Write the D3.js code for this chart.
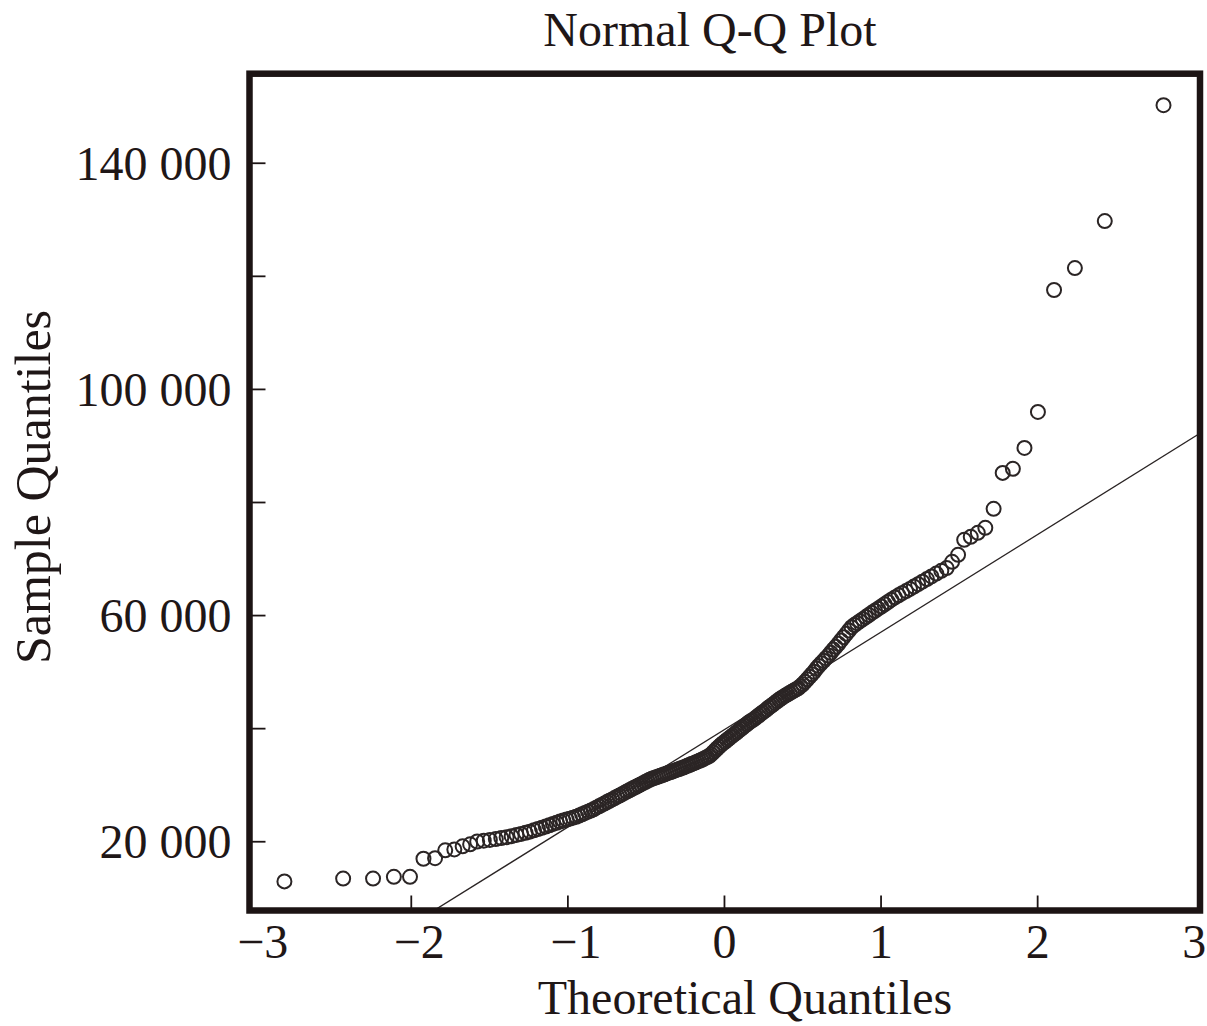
<!DOCTYPE html>
<html>
<head>
<meta charset="utf-8">
<script src="https://cdn.jsdelivr.net/npm/d3@7"></script>
<style>
  html, body { margin: 0; padding: 0; background: #ffffff; }
  svg { display: block; }
  text { font-family: "Liberation Serif", "Times New Roman", serif; fill: #1f1717; }
</style>
</head>
<body>
<svg id="chart" width="1207" height="1026"></svg>
<script>
// ---- data ----
const chartTitle = "Normal Q-Q Plot";
const xTitle = "Theoretical Quantiles";
const yTitle = "Sample Quantiles";

// theoretical quantiles of the 200 points
const theoretical = [
-2.807,-2.432,-2.241,-2.108,-2.005,-1.919,-1.845,-1.780,-1.722,-1.669,
-1.621,-1.576,-1.534,-1.495,-1.457,-1.422,-1.388,-1.356,-1.325,-1.296,
-1.267,-1.240,-1.213,-1.188,-1.163,-1.138,-1.115,-1.092,-1.069,-1.047,
-1.026,-1.005,-0.984,-0.964,-0.944,-0.925,-0.906,-0.887,-0.868,-0.850,
-0.833,-0.815,-0.798,-0.781,-0.764,-0.747,-0.731,-0.714,-0.698,-0.682,
-0.667,-0.651,-0.636,-0.620,-0.605,-0.590,-0.575,-0.561,-0.546,-0.532,
-0.517,-0.503,-0.489,-0.475,-0.461,-0.447,-0.433,-0.419,-0.406,-0.392,
-0.379,-0.365,-0.352,-0.339,-0.325,-0.312,-0.299,-0.286,-0.273,-0.260,
-0.247,-0.234,-0.221,-0.208,-0.196,-0.183,-0.170,-0.157,-0.145,-0.132,
-0.119,-0.107,-0.094,-0.082,-0.069,-0.056,-0.044,-0.031,-0.019,-0.006,
0.006,0.019,0.031,0.044,0.056,0.069,0.082,0.094,0.107,0.119,
0.132,0.145,0.157,0.170,0.183,0.196,0.208,0.221,0.234,0.247,
0.260,0.273,0.286,0.299,0.312,0.325,0.339,0.352,0.365,0.379,
0.392,0.406,0.419,0.433,0.447,0.461,0.475,0.489,0.503,0.517,
0.532,0.546,0.561,0.575,0.590,0.605,0.620,0.636,0.651,0.667,
0.682,0.698,0.714,0.731,0.747,0.764,0.781,0.798,0.815,0.833,
0.850,0.868,0.887,0.906,0.925,0.944,0.964,0.984,1.005,1.026,
1.047,1.069,1.092,1.115,1.138,1.163,1.188,1.213,1.240,1.267,
1.296,1.325,1.356,1.388,1.422,1.457,1.495,1.534,1.576,1.621,
1.669,1.722,1.780,1.845,1.919,2.005,2.108,2.241,2.432,2.807
];

// sample quantiles (sorted sample values)
const sample = [
12900,13400,13400,13700,13700,16900,17000,18400,18550,19100,
19450,19950,20100,20230,20390,20570,20720,20900,21110,21290,
21480,21700,21940,22160,22370,22600,22830,23060,23270,23480,
23660,23830,23990,24170,24330,24540,24770,25000,25230,25440,
25650,25940,26170,26430,26660,26930,27160,27400,27630,27880,
28090,28320,28550,28800,29000,29220,29440,29630,29860,30050,
30270,30460,30670,30870,31030,31170,31310,31450,31570,31720,
31850,32000,32120,32250,32390,32530,32650,32780,32920,33040,
33180,33340,33480,33640,33760,33920,34070,34220,34370,34540,
34740,34900,35080,35360,35710,36060,36400,36750,37050,37350,
37600,37900,38160,38450,38710,38990,39280,39560,39840,40110,
40390,40670,40960,41240,41420,41680,41960,42230,42510,42790,
43060,43320,43660,43910,44150,44460,44760,45020,45290,45530,
45760,45980,46200,46430,46660,46880,47090,47420,47760,48200,
48640,49080,49530,49970,50530,51000,51460,51910,52370,52830,
53340,53890,54390,54930,55520,56100,56680,57270,57850,58240,
58570,58930,59280,59640,60010,60390,60770,61140,61520,61910,
62310,62730,63130,63500,63880,64250,64630,65040,65460,65910,
66370,66840,67340,67830,68310,69420,70660,73310,73840,74550,
75430,78790,85150,85860,89570,95930,117490,121370,129680,150180
];

// reference line (through the quartiles)
const refLineIntercept = 39700;
const refLineSlope = 17250;

// axes
const xDomain = [-3.03, 3.04];
const yDomain = [7750, 155750];
const xTickValues = [-2, -1, 0, 1, 2];
const xLabelValues = [-3, -2, -1, 0, 1, 2, 3];
const yTickValues = [20000, 40000, 60000, 80000, 100000, 120000, 140000];
const yLabelValues = [20000, 60000, 100000, 140000];

// ---- drawing ----
const svg = d3.select("#chart");
const plot = { left: 249.5, right: 1200, top: 73.7, bottom: 910.5 };

const x = d3.scaleLinear().domain(xDomain).range([plot.left, plot.right]);
const y = d3.scaleLinear().domain(yDomain).range([plot.bottom, plot.top]);

const ink = "#1c1414";
const fontSize = "48px";

svg.append("defs").append("clipPath").attr("id", "clip")
  .append("rect")
  .attr("x", plot.left).attr("y", plot.top)
  .attr("width", plot.right - plot.left).attr("height", plot.bottom - plot.top);

// title
svg.append("text")
  .attr("x", 710).attr("y", 46)
  .attr("text-anchor", "middle")
  .style("font-size", fontSize)
  .text(chartTitle);

// inward ticks
const xTickAxis = d3.axisBottom(x).tickValues(xTickValues).tickSize(-15).tickFormat("");
svg.append("g").attr("transform", `translate(0,${plot.bottom})`).call(xTickAxis)
  .call(g => g.select(".domain").remove())
  .call(g => g.selectAll("line").attr("stroke", ink).attr("stroke-width", 1.8));

const yTickAxis = d3.axisLeft(y).tickValues(yTickValues).tickSize(-16).tickFormat("");
svg.append("g").attr("transform", `translate(${plot.left},0)`).call(yTickAxis)
  .call(g => g.select(".domain").remove())
  .call(g => g.selectAll("line").attr("stroke", ink).attr("stroke-width", 1.8));

// labels
const xLabelAxis = d3.axisBottom(x).tickValues(xLabelValues).tickSize(0).tickPadding(0)
  .tickFormat(d3.format("d"));
svg.append("g").attr("transform", `translate(0,${plot.bottom})`).call(xLabelAxis)
  .call(g => g.select(".domain").remove())
  .call(g => g.selectAll("text")
    .attr("y", 47.5).attr("dy", null)
    .attr("dx", d => d < 0 ? 8 : 0)
    .style("font-size", fontSize)
    .style("font-family", "'Liberation Serif', serif")
    .attr("fill", "#1f1717"));

const fmtY = d => d3.format(",")(d).replace(/,/g, " ");
const yLabelAxis = d3.axisLeft(y).tickValues(yLabelValues).tickSize(0).tickPadding(0)
  .tickFormat(fmtY);
svg.append("g").attr("transform", `translate(${plot.left},0)`).call(yLabelAxis)
  .call(g => g.select(".domain").remove())
  .call(g => g.selectAll("text")
    .attr("x", -18).attr("dy", "0.34em")
    .style("font-size", fontSize)
    .style("font-family", "'Liberation Serif', serif")
    .attr("fill", "#1f1717"));

// axis titles
svg.append("text")
  .attr("x", 745).attr("y", 1014)
  .attr("text-anchor", "middle")
  .style("font-size", fontSize)
  .text(xTitle);

svg.append("text")
  .attr("transform", `translate(50,487) rotate(-90)`)
  .attr("text-anchor", "middle")
  .style("font-size", "50px")
  .text(yTitle);

// reference line
const g = svg.append("g").attr("clip-path", "url(#clip)");
g.append("line")
  .attr("x1", x(xDomain[0])).attr("y1", y(refLineIntercept + refLineSlope * xDomain[0]))
  .attr("x2", x(xDomain[1])).attr("y2", y(refLineIntercept + refLineSlope * xDomain[1]))
  .attr("stroke", "#2a2424").attr("stroke-width", 1.3);

// points
const points = theoretical.map((t, i) => ({ t, v: sample[i] }));
g.selectAll("circle.pt").data(points).join("circle")
  .attr("class", "pt")
  .attr("cx", d => x(d.t))
  .attr("cy", d => y(d.v))
  .attr("r", 7)
  .attr("fill", "none")
  .attr("stroke", "#2b2525")
  .attr("stroke-width", 2);

// frame
svg.append("rect")
  .attr("x", plot.left).attr("y", plot.top)
  .attr("width", plot.right - plot.left).attr("height", plot.bottom - plot.top)
  .attr("fill", "none").attr("stroke", ink).attr("stroke-width", 6.5);
</script>
</body>
</html>
